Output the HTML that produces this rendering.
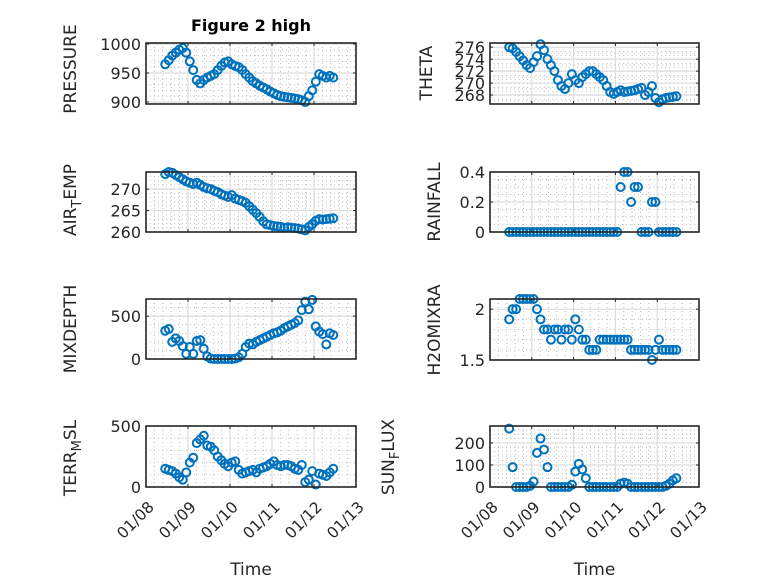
<!DOCTYPE html>
<html><head><meta charset="utf-8">
<style>
html,body{margin:0;padding:0;background:#fff;}
svg{display:block;font-family:"DejaVu Sans","Liberation Sans",sans-serif;}
</style></head>
<body>
<svg id="fig" width="778" height="583" viewBox="0 0 778 583" xmlns="http://www.w3.org/2000/svg">
<rect x="0" y="0" width="778" height="583" fill="#fff"/>
<text x="251" y="31" text-anchor="middle" font-size="16" font-weight="bold" fill="#000">Figure 2 high</text>
</svg>
<script>
// hours since 01/08 00:00
const timeHours = [11,13,15,17,19,21,23,25,27,29,31,33,35,37,39,41,43,45,47,49,51,53,55,57,59,61,63,65,67,69,71,73,75,77,79,81,83,85,87,89,91,93,95,97,99,101,103,105,107];
const xTickLabels = ["01/08","01/09","01/10","01/11","01/12","01/13"];
const pressureValues = [965,972,980,985,990,993,985,970,955,938,932,938,942,945,948,955,962,968,970,965,962,960,955,948,942,936,932,928,925,922,918,915,912,910,909,908,907,906,905,903,900,910,920,935,948,945,942,945,942];
const thetaValues = [276,275.8,275.2,274.5,273.8,273,272.5,273.5,274.5,276.5,275.5,274,273,272,270.5,269.5,269,270,271.5,270.5,270,271,271.5,272,272,271.5,271,270.5,269.5,268.5,268.2,268.5,268.8,268.5,268.6,268.7,268.8,269,269.2,268,268.5,269.5,267.5,266.8,267.3,267.5,267.6,267.7,267.8];
const airTempValues = [273.5,274,273.8,273.3,272.8,272.3,271.8,271.5,271.2,271.5,271,270.5,270.2,270,269.6,269.3,268.8,268.5,268.2,268.6,267.8,267.5,267.2,266.8,266,265.2,264.4,263.5,262.5,261.8,261.6,261.4,261.3,261.2,261,261.1,261,260.9,260.8,260.6,260.4,261.2,261.8,262.6,263,262.9,263,263.1,263.2];
const rainfallValues = [0,0,0,0,0,0,0,0,0,0,0,0,0,0,0,0,0,0,0,0,0,0,0,0,0,0,0,0,0,0,0,0,0.3,0.4,0.4,0.2,0.3,0.3,0,0,0,0.2,0.2,0,0,0,0,0,0];
const mixDepthValues = [330,350,200,240,210,150,60,140,60,210,220,120,30,5,0,0,0,0,0,0,5,20,60,140,180,170,200,220,240,260,280,300,310,330,360,380,400,420,450,570,670,580,690,380,320,290,170,300,280];
const h2oValues = [1.9,2.0,2.0,2.1,2.1,2.1,2.1,2.1,2.0,1.9,1.8,1.8,1.7,1.8,1.8,1.7,1.8,1.8,1.7,1.9,1.8,1.7,1.7,1.6,1.6,1.6,1.7,1.7,1.7,1.7,1.7,1.7,1.7,1.7,1.7,1.6,1.6,1.6,1.6,1.6,1.6,1.5,1.6,1.7,1.6,1.6,1.6,1.6,1.6];
const terrValues = [150,140,130,110,80,60,120,200,240,360,390,420,340,330,300,250,220,190,170,200,210,140,110,120,130,140,120,150,160,170,190,210,180,170,180,180,170,150,140,180,40,60,130,20,110,100,90,120,150];
const sunValues = [265,90,0,0,0,0,5,25,155,220,170,90,0,0,0,0,0,0,10,70,105,80,40,0,0,0,0,0,0,0,0,0,15,20,15,0,0,0,0,0,0,0,0,0,0,5,15,30,40];
const pressureTicks = [900,950,1000];
const thetaTicks = [268,270,272,274,276];
const airTempTicks = [260,265,270];
const rainfallTicks = [0,0.2,0.4];
const mixDepthTicks = [0,500];
const h2oTicks = [1.5,2];
const terrTicks = [0,500];
const sunTicks = [0,100,200];

const NS = "http://www.w3.org/2000/svg";
const svg = document.getElementById('fig');
function mk(tag, attrs, parent){
  const e = document.createElementNS(NS, tag);
  for (const k in attrs) e.setAttribute(k, attrs[k]);
  (parent||svg).appendChild(e);
  return e;
}

const panels = [
  {name:'pressure', x0:146,x1:356,y0:43,y1:104, ylim:[896.5,1001.7], ticks:pressureTicks, minor:10, vals:pressureValues, label:['PRESSURE'], lx:76, ly:69, xl:false, xminor:5},
  {name:'theta', x0:490,x1:699,y0:43,y1:104, ylim:[266.5,276.7], ticks:thetaTicks, minor:1, vals:thetaValues, label:['THETA'], lx:432, ly:73, xl:false, xminor:10},
  {name:'air-temp', x0:146,x1:356,y0:172,y1:232, ylim:[260,274], ticks:airTempTicks, minor:1, vals:airTempValues, label:['AIR','T','EMP'], lx:76, ly:200, xl:false, xminor:5},
  {name:'rainfall', x0:490,x1:699,y0:172,y1:232, ylim:[0,0.4], ticks:rainfallTicks, minor:0.05, vals:rainfallValues, label:['RAINFALL'], lx:440, ly:202, xl:false, xminor:5},
  {name:'mixdepth', x0:146,x1:356,y0:299,y1:359, ylim:[0,700], ticks:mixDepthTicks, minor:100, vals:mixDepthValues, label:['MIXDEPTH'], lx:76, ly:329, xl:false, xminor:5},
  {name:'h2omixra', x0:490,x1:699,y0:299,y1:360, ylim:[1.5,2.1], ticks:h2oTicks, minor:0.1, vals:h2oValues, label:['H2OMIXRA'], lx:440, ly:330, xl:false, xminor:5},
  {name:'terr-msl', x0:146,x1:356,y0:426,y1:487, ylim:[0,500], ticks:terrTicks, minor:100, vals:terrValues, label:['TERR','M','SL'], lx:76, ly:458, xl:true, xminor:5},
  {name:'sun-flux', x0:490,x1:699,y0:426,y1:487, ylim:[0,277], ticks:sunTicks, minor:20, vals:sunValues, label:['SUN','F','LUX'], lx:394, ly:457, xl:true, xminor:5}
];

function fmt(v){ return String(v); }

panels.forEach(p=>{
  const g = mk('g',{});
  
  
  const xs = h => p.x0 + (h/24)/5*(p.x1-p.x0);
  const ys = v => p.y1 - (v-p.ylim[0])/(p.ylim[1]-p.ylim[0])*(p.y1-p.y0);
  mk('rect',{x:p.x0,y:p.y0,width:p.x1-p.x0,height:p.y1-p.y0,fill:'#fff'},g);
  for(let d=0; d<5; d++){
    for(let k=1;k<p.xminor;k++){
      const x = xs((d + k/p.xminor)*24);
      mk('line',{x1:x,x2:x,y1:p.y0,y2:p.y1,stroke:'#bdbdbd','stroke-width':1,'stroke-dasharray':'1 3'},g);
    }
  }
  const start = Math.ceil(p.ylim[0]/p.minor - 1e-9);
  for(let k=start; k*p.minor<=p.ylim[1]+1e-9; k++){
    const v = k*p.minor;
    if (p.ticks.some(t=>Math.abs(t-v)<1e-9)) continue;
    const y = ys(v);
    mk('line',{x1:p.x0,x2:p.x1,y1:y,y2:y,stroke:'#bdbdbd','stroke-width':1,'stroke-dasharray':'1 3'},g);
  }
  for(let d=1; d<5; d++){
    const x = xs(d*24);
    mk('line',{x1:x,x2:x,y1:p.y0,y2:p.y1,stroke:'#dcdcdc','stroke-width':1.2},g);
  }
  p.ticks.forEach(t=>{
    const y = ys(t);
    mk('line',{x1:p.x0,x2:p.x1,y1:y,y2:y,stroke:'#dcdcdc','stroke-width':1.2},g);
    mk('line',{x1:p.x0,x2:p.x0+3,y1:y,y2:y,stroke:'#262626','stroke-width':1},g);
    mk('line',{x1:p.x1,x2:p.x1-3,y1:y,y2:y,stroke:'#262626','stroke-width':1},g);
    const tl = mk('text',{x:p.x0-5,y:y+6,'text-anchor':'end','font-size':16,fill:'#262626'},g);
    
    
    tl.textContent = fmt(t);
  });
  for(let d=0; d<=5; d++){
    const x = xs(d*24);
    mk('line',{x1:x,x2:x,y1:p.y1,y2:p.y1-3,stroke:'#262626','stroke-width':1},g);
    mk('line',{x1:x,x2:x,y1:p.y0,y2:p.y0+3,stroke:'#262626','stroke-width':1},g);
    if(p.xl){
      const ax = x+9, ay = p.y1+21;
      const tl = mk('text',{x:ax,y:ay,'text-anchor':'end','font-size':15.5,fill:'#262626',transform:`rotate(-45 ${ax} ${ay})`},g);
      
      
      tl.textContent = xTickLabels[d];
    }
  }
  p.vals.forEach((v,i)=>{
    const c = mk('circle',{cx:xs(timeHours[i]),cy:ys(v),r:4,fill:'none',stroke:'#0072BD','stroke-width':2},g);
    
    
  });
  mk('rect',{x:p.x0,y:p.y0,width:p.x1-p.x0,height:p.y1-p.y0,fill:'none',stroke:'#262626','stroke-width':1.6},g);
  const yl = mk('text',{x:p.lx,y:p.ly,'text-anchor':'middle','font-size':17,fill:'#262626',transform:`rotate(-90 ${p.lx} ${p.ly})`},g);
  
  
  if(p.label.length===1){ yl.textContent = p.label[0]; }
  else {
    const a = mk('tspan',{},yl); a.textContent = p.label[0];
    const b = mk('tspan',{dy:5,'font-size':13},yl); b.textContent = p.label[1];
    const c = mk('tspan',{dy:-5},yl); c.textContent = p.label[2];
  }
  if(p.xl){
    const xt = mk('text',{x:(p.x0+p.x1)/2,y:575,'text-anchor':'middle','font-size':17,fill:'#262626'},g);
    
    
    xt.textContent = 'Time';
  }
});
</script>
</body></html>
